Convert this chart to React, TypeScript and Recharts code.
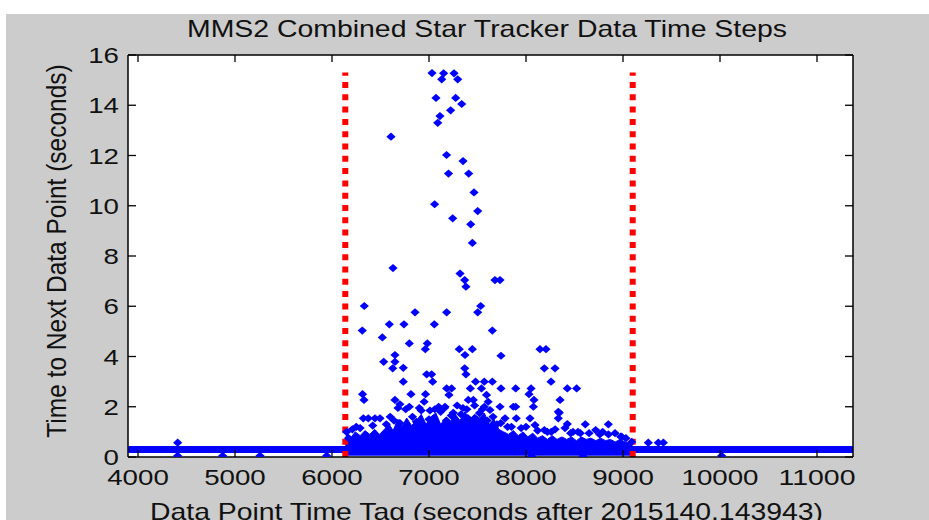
import React from 'react';
import {
  ComposedChart,
  Scatter,
  Line,
  Area,
  XAxis,
  YAxis,
  ReferenceLine
} from 'recharts';

// axis setup (seconds after 2015140.143943)
const xDomain = [3897, 11371];
const yDomain = [0, 16];
const xTicks = [4000, 5000, 6000, 7000, 8000, 9000, 10000, 11000];
const yTicks = [0, 2, 4, 6, 8, 10, 12, 14, 16];

// red dotted markers bounding the noisy window
const windowStart = 6137;
const windowEnd = 9100;
const windowTop = 15.3;

// regular sampling band, seen as a thick line across the whole span
const baseline = [
  { x: 3897, y: 0.3 },
  { x: 11371, y: 0.3 }
];

// upper edge of the solid blob of small steps inside the window
const denseTop: [number, number][] = [
  [6140, 0.45], [6150, 0.95], [6200, 0.8], [6240, 1.0], [6290, 0.85], [6340, 1.05],
  [6390, 0.9], [6440, 1.1], [6490, 0.9], [6540, 1.1], [6590, 1.3], [6630, 1.05],
  [6680, 1.5], [6720, 1.2], [6770, 1.55], [6820, 1.25], [6870, 1.45], [6920, 1.7],
  [6970, 1.3], [7020, 1.6], [7070, 1.75], [7120, 1.3], [7170, 1.55], [7220, 1.4],
  [7270, 1.7], [7320, 1.45], [7370, 1.8], [7420, 1.5], [7470, 1.7], [7520, 1.55],
  [7570, 1.75], [7620, 1.3], [7670, 1.5], [7720, 1.1], [7770, 1.0], [7820, 0.9],
  [7870, 1.05], [7920, 0.85], [7970, 1.0], [8020, 0.8], [8070, 0.95], [8120, 0.75],
  [8170, 0.85], [8220, 0.7], [8270, 0.85], [8320, 0.7], [8370, 0.8], [8420, 0.7],
  [8470, 0.8], [8520, 0.65], [8570, 0.8], [8620, 0.7], [8670, 0.75], [8720, 0.65],
  [8770, 0.75], [8820, 0.65], [8870, 0.7], [8920, 0.6], [8970, 0.7], [9020, 0.6],
  [9070, 0.55], [9095, 0.45]
];

// large gaps (top of the plot)
const bigSteps: [number, number][] = [
  [7031, 15.28], [7151, 15.27], [7258, 15.27], [7131, 15.03], [7296, 15.03],
  [7072, 14.29], [7275, 14.29], [7337, 14.05], [7223, 13.8], [7113, 13.57],
  [7090, 13.3], [6608, 12.75], [7181, 12.02], [7351, 11.78], [7201, 11.28],
  [7409, 11.28], [7464, 10.53], [7058, 10.06], [7502, 9.79], [7244, 9.5],
  [7430, 9.26], [7447, 8.52], [6629, 7.52], [7320, 7.3], [7368, 7.04],
  [7381, 6.78], [7680, 7.04], [7732, 7.04]
];

// medium gaps
const midSteps: [number, number][] = [
  [6333, 6.01], [6312, 5.03], [7533, 6.01], [7502, 5.76], [6856, 5.76], [7182, 5.76],
  [6591, 5.28], [6742, 5.28], [7055, 5.28], [7653, 5.03], [6519, 4.76], [6797, 4.52],
  [6983, 4.52], [6962, 4.29], [6533, 3.79], [6649, 4.06], [6649, 3.79], [6626, 3.53],
  [6735, 3.55], [7312, 4.29], [7371, 4.06], [7447, 4.29], [7742, 4.03], [8144, 4.29],
  [8206, 4.29], [7368, 3.53], [7381, 3.29], [8189, 3.53], [8299, 3.53], [8258, 3.0],
  [6735, 3.0], [6976, 3.29], [7027, 3.29], [7038, 3.0], [7480, 3.0], [7570, 3.0],
  [7653, 3.0], [7541, 2.73], [7593, 2.47], [7742, 2.73], [7182, 2.73], [7233, 2.73],
  [7206, 2.47], [7426, 2.73], [7894, 2.73], [8052, 2.73], [8031, 2.5], [8082, 2.27],
  [8076, 2.0], [8351, 2.27], [8426, 2.73], [8522, 2.73], [6315, 2.5], [6330, 2.27],
  [6649, 2.27], [6814, 2.5], [6964, 2.5], [6797, 2.0], [7100, 2.0], [7165, 2.0],
  [7405, 2.27], [7457, 2.27], [7570, 2.0], [7869, 2.0], [7894, 2.0], [7250, 1.76],
  [6680, 1.95], [6700, 2.1], [6950, 2.2], [7120, 1.8], [7160, 1.95], [7330, 1.7],
  [7520, 1.75], [7732, 2.0], [7629, 1.87], [6760, 1.9], [6900, 1.95], [7010, 1.85],
  [7290, 2.05], [7390, 1.9], [7470, 2.05], [7610, 2.2]
];

// small gaps just above the blob, plus the dips below the band
const smallSteps: [number, number][] = [
  [6323, 1.54], [6374, 1.54], [6443, 1.54], [6495, 1.54], [8041, 1.54], [8333, 1.8],
  [8333, 1.54], [8611, 1.3], [8849, 1.3], [8343, 1.76], [8426, 1.31], [8189, 1.07],
  [8718, 1.07], [8976, 0.81], [8986, 0.81], [7784, 1.54], [7900, 1.54], [8093, 1.27],
  [8402, 1.15], [8485, 1.0], [8536, 1.0], [8918, 0.95], [6250, 1.2], [6420, 1.25],
  [6560, 1.3], [6700, 1.35], [6870, 1.4], [7000, 1.5], [7180, 1.45], [7280, 1.3],
  [7400, 1.55], [7480, 1.4], [7600, 1.45], [7700, 1.3], [7850, 1.2], [7950, 1.15],
  [8120, 1.05], [8260, 1.0], [8300, 1.1], [8460, 0.95], [8650, 0.95], [8790, 1.0],
  [8850, 0.9], [9030, 0.75], [6150, 1.0], [6170, 0.75], [6210, 1.1], [6290, 1.15],
  [6600, 1.6], [6640, 1.45], [6830, 1.6], [6920, 1.85], [7060, 1.9], [7230, 1.65],
  [7350, 1.95], [7550, 1.9], [7660, 1.6], [7740, 1.35], [7810, 1.2], [8000, 1.2],
  [8220, 1.0], [8560, 0.95], [8760, 0.9],
  [9090, 0.6], [9261, 0.57], [9364, 0.57], [9416, 0.57], [4409, 0.57],
  [4409, 0.05], [4873, 0.05], [5258, 0.05], [5945, 0.05], [8059, 0.03], [8588, 0.03],
  [10017, 0.05]
];

const toPts = (arr: [number, number][]) => arr.map(([x, y]) => ({ x, y }));
const denseData = denseTop.map(([x, top]) => ({ x, top }));
const stepData = [...toPts(bigSteps), ...toPts(midSteps), ...toPts(smallSteps)];

const FONT = "'Liberation Sans', Arial, Helvetica, sans-serif";
const INK = '#111';
const BLUE = '#0000ff';
const RED = '#ff0000';

const Diamond = (props: any) => {
  const { cx, cy } = props;
  if (cx == null || cy == null) return null;
  return (
    <polygon
      points={`${cx - 4.6},${cy} ${cx},${cy - 4.1} ${cx + 4.6},${cy} ${cx},${cy + 4.1}`}
      fill={BLUE}
    />
  );
};

const BottomTick = (props: any) => {
  const { x, y, payload } = props;
  const label = String(payload.value);
  return (
    <g>
      <line x1={x} y1={y} x2={x} y2={y - 7} stroke="#000" strokeWidth={1.3} />
      <text
        x={x}
        y={y + 28}
        textAnchor="middle"
        fontSize={22}
        fontFamily={FONT}
        fill={INK}
        textLength={label.length * 15.4}
        lengthAdjust="spacingAndGlyphs"
      >
        {label}
      </text>
    </g>
  );
};

const TopTick = (props: any) => {
  const { x, y } = props;
  return <line x1={x} y1={y} x2={x} y2={y + 7} stroke="#000" strokeWidth={1.3} />;
};

const LeftTick = (props: any) => {
  const { x, y, payload } = props;
  const label = String(payload.value);
  return (
    <g>
      <line x1={x} y1={y} x2={x + 8} y2={y} stroke="#000" strokeWidth={1.3} />
      <text
        x={x - 9}
        y={y + 8}
        textAnchor="end"
        fontSize={22}
        fontFamily={FONT}
        fill={INK}
        textLength={label.length * 15.4}
        lengthAdjust="spacingAndGlyphs"
      >
        {label}
      </text>
    </g>
  );
};

const RightTick = (props: any) => {
  const { x, y } = props;
  return <line x1={x} y1={y} x2={x - 8} y2={y} stroke="#000" strokeWidth={1.3} />;
};

const axisLine = { stroke: '#000', strokeWidth: 1.5 };

export default function App() {
  return (
    <div style={{ position: 'absolute', left: 0, top: 0, width: 929, height: 520, background: '#fff' }}>
      <div style={{ position: 'absolute', left: 6, top: 14, width: 923, height: 506, background: '#cccccc' }}>
        <ComposedChart
          width={923}
          height={506}
          margin={{ top: 31, right: 66, bottom: 33, left: 62 }}
        >
          <rect x={122} y={41} width={725} height={402} fill="#fff" />
          <XAxis
            xAxisId="bottom"
            dataKey="x"
            type="number"
            domain={xDomain}
            ticks={xTicks}
            allowDataOverflow
            height={30}
            tickSize={0}
            tickMargin={0}
            tickLine={false}
            axisLine={axisLine}
            tick={<BottomTick />}
            interval={0}
          />
          <XAxis
            xAxisId="top"
            orientation="top"
            dataKey="x"
            type="number"
            domain={xDomain}
            ticks={xTicks}
            allowDataOverflow
            height={10}
            tickSize={0}
            tickMargin={0}
            tickLine={false}
            axisLine={axisLine}
            tick={<TopTick />}
            interval={0}
          />
          <YAxis
            yAxisId="left"
            type="number"
            domain={yDomain}
            ticks={yTicks}
            allowDataOverflow
            width={60}
            tickSize={0}
            tickMargin={0}
            tickLine={false}
            axisLine={axisLine}
            tick={<LeftTick />}
            interval={0}
          />
          <YAxis
            yAxisId="right"
            orientation="right"
            type="number"
            domain={yDomain}
            ticks={yTicks}
            allowDataOverflow
            width={10}
            tickSize={0}
            tickMargin={0}
            tickLine={false}
            axisLine={axisLine}
            tick={<RightTick />}
            interval={0}
          />
          <Line
            xAxisId="bottom"
            yAxisId="left"
            data={baseline}
            dataKey="y"
            stroke={BLUE}
            strokeWidth={7}
            dot={false}
            activeDot={false}
            isAnimationActive={false}
          />
          <Area
            xAxisId="bottom"
            yAxisId="left"
            data={denseData}
            dataKey="top"
            type="linear"
            baseValue={0.05}
            stroke={BLUE}
            strokeWidth={1}
            fill={BLUE}
            fillOpacity={1}
            dot={false}
            activeDot={false}
            isAnimationActive={false}
          />
          <Scatter
            xAxisId="bottom"
            yAxisId="left"
            data={stepData}
            dataKey="y"
            shape={<Diamond />}
            isAnimationActive={false}
          />
          <ReferenceLine
            xAxisId="bottom"
            yAxisId="left"
            segment={[{ x: windowStart, y: 0 }, { x: windowStart, y: windowTop }]}
            stroke={RED}
            strokeWidth={6}
            strokeDasharray="6 6.3"
          />
          <ReferenceLine
            xAxisId="bottom"
            yAxisId="left"
            segment={[{ x: windowEnd, y: 0 }, { x: windowEnd, y: windowTop }]}
            stroke={RED}
            strokeWidth={6}
            strokeDasharray="6 6.3"
          />
        </ComposedChart>
      </div>
      <svg
        width={929}
        height={520}
        style={{ position: 'absolute', left: 0, top: 0, pointerEvents: 'none' }}
      >
        <text
          x={487}
          y={37}
          textAnchor="middle"
          fontSize={24}
          fontFamily={FONT}
          fill={INK}
          textLength={600}
          lengthAdjust="spacingAndGlyphs"
        >
          MMS2 Combined Star Tracker Data Time Steps
        </text>
        <text
          x={486.5}
          y={520}
          textAnchor="middle"
          fontSize={24}
          fontFamily={FONT}
          fill={INK}
          textLength={673}
          lengthAdjust="spacingAndGlyphs"
        >
          Data Point Time Tag (seconds after 2015140.143943)
        </text>
        <text
          transform="translate(66,251) scale(1.15,1) rotate(-90)"
          textAnchor="middle"
          fontSize={24.5}
          fontFamily={FONT}
          fill={INK}
        >
          Time to Next Data Point (seconds)
        </text>
      </svg>
    </div>
  );
}
